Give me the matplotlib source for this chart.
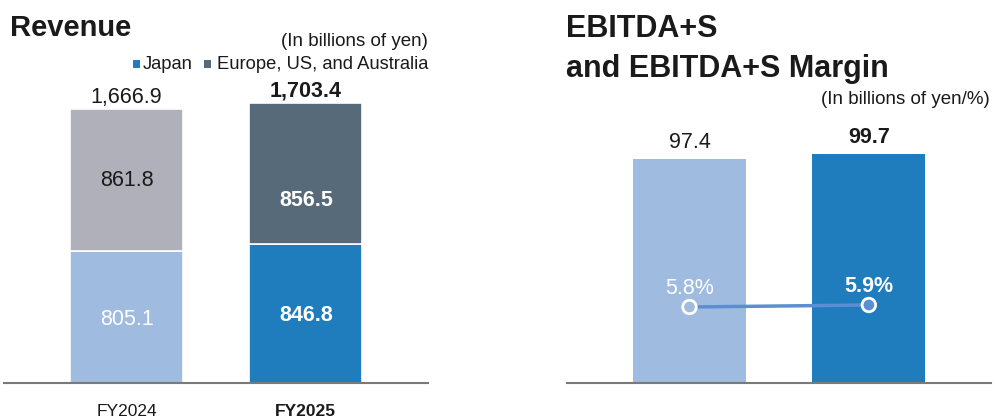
import matplotlib.pyplot as plt
from matplotlib.patches import Rectangle

plt.rcParams["font.family"] = ["Liberation Sans", "DejaVu Sans"]

# data
years = ["FY2024", "FY2025"]
japan = [805.1, 846.8]
overseas = [861.8, 856.5]
revenue_total = [1666.9, 1703.4]
ebitda = [97.4, 99.7]
margin = [5.8, 5.9]
legend_labels = ["Japan", "Europe, US, and Australia"]

c_japan = ["#a0bbe0", "#1f7dbd"]
c_overseas = ["#b0b0ba", "#566a7a"]
c_ebitda = ["#a0bbe0", "#1f7dbd"]
c_line = "#5b8fd2"
c_marker = ["#a0bbe0", "#5b8fd2"]
axis_col = "#7a7a7a"
txt = "#1a1a1a"

W, H = 1002, 419
fig = plt.figure(figsize=(W / 100, H / 100), dpi=100)

def px_axes(x0, x1, ytop, ybot):
    return fig.add_axes([x0 / W, (H - ybot) / H, (x1 - x0) / W, (ybot - ytop) / H])

x = [0, 1]
xlim = (-0.683, 1.681)
bw = 0.63

# ---------- Revenue ----------
ax = px_axes(4, 428, 30, 383)
ax.bar(x, japan, width=bw, color=c_japan, edgecolor="white", linewidth=1.2)
ax.bar(x, overseas, width=bw, bottom=japan, color=c_overseas, edgecolor="white", linewidth=1.2)
ax.set_xlim(*xlim)
ax.set_ylim(0, 2150)

for i in x:
    bold = "bold" if i == 1 else "normal"
    ax.text(i, revenue_total[i] + 75, f"{revenue_total[i]:,.1f}", ha="center", va="center",
            fontsize=15.5, fontweight=bold, color=txt)
    ax.text(i, japan[i] / 2 - 15, f"{japan[i]:.1f}", ha="center", va="center",
            fontsize=15.5, fontweight=bold, color="white")
overseas_pos = [0.5, 0.31]
overseas_col = [txt, "white"]
for i in x:
    ax.text(i, japan[i] + overseas[i] * overseas_pos[i], f"{overseas[i]:.1f}", ha="center",
            va="center", fontsize=15.5, fontweight="bold" if i == 1 else "normal",
            color=overseas_col[i])

# ---------- EBITDA+S ----------
ax2 = px_axes(567, 991, 30, 383)
ax2.bar(x, ebitda, width=bw, color=c_ebitda)
ax2.set_xlim(*xlim)
ax2.set_ylim(0, 153.5)
for i in x:
    ax2.text(i, ebitda[i] + 7, f"{ebitda[i]:.1f}", ha="center", va="center",
             fontsize=15.5, fontweight="bold" if i == 1 else "normal", color=txt)

axm = ax2.twinx()
axm.set_ylim(2.0, 19.65)
axm.plot(x, margin, color=c_line, linewidth=2.5, zorder=3)
axm.scatter(x, margin, s=95, facecolor=c_marker, edgecolor="white", linewidth=2, zorder=4)
for i in x:
    axm.text(i, margin[i] + 0.95, f"{margin[i]:.1f}%", ha="center", va="center",
             fontsize=15.5, fontweight="bold" if i == 1 else "normal", color="white")

for a in (ax, ax2, axm):
    for s in a.spines.values():
        s.set_visible(False)
    a.set_yticks([])
for a in (ax, ax2):
    a.spines["bottom"].set_visible(True)
    a.spines["bottom"].set_color(axis_col)
    a.spines["bottom"].set_linewidth(1.5)
    a.set_xticks(x)
    a.set_xticklabels(years, fontsize=12.5, color=txt)
    a.get_xticklabels()[1].set_fontweight("bold")
    a.tick_params(axis="x", length=0, pad=15)
axm.set_xticks([])

# titles and notes
fig.text(10 / W, 1 - 28 / H, "Revenue", fontsize=21, fontweight="bold", va="center", color=txt)
fig.text(428 / W, 1 - 42 / H, "(In billions of yen)", fontsize=13.5, ha="right", va="center", color=txt)

# legend: coloured square + label
leg_y = 1 - 64 / H
fig.text(428 / W, leg_y, legend_labels[1], fontsize=13.2, ha="right", va="center", color=txt)
fig.text(193 / W, leg_y, legend_labels[0], fontsize=13.2, ha="right", va="center", color=txt)
for sx, col in [(133, c_japan[1]), (204, c_overseas[1])]:
    fig.add_artist(Rectangle((sx / W, 1 - 68 / H), 7 / W, 8 / H, transform=fig.transFigure,
                             facecolor=col, edgecolor="none"))

fig.text(566 / W, 1 - 49 / H, "EBITDA+S\nand EBITDA+S Margin", fontsize=22, fontweight="bold",
         va="center", linespacing=1.45, color=txt)
fig.text(990 / W, 1 - 99 / H, "(In billions of yen/%)", fontsize=13.5, ha="right", va="center", color=txt)

fig.savefig("out.png", dpi=100)
